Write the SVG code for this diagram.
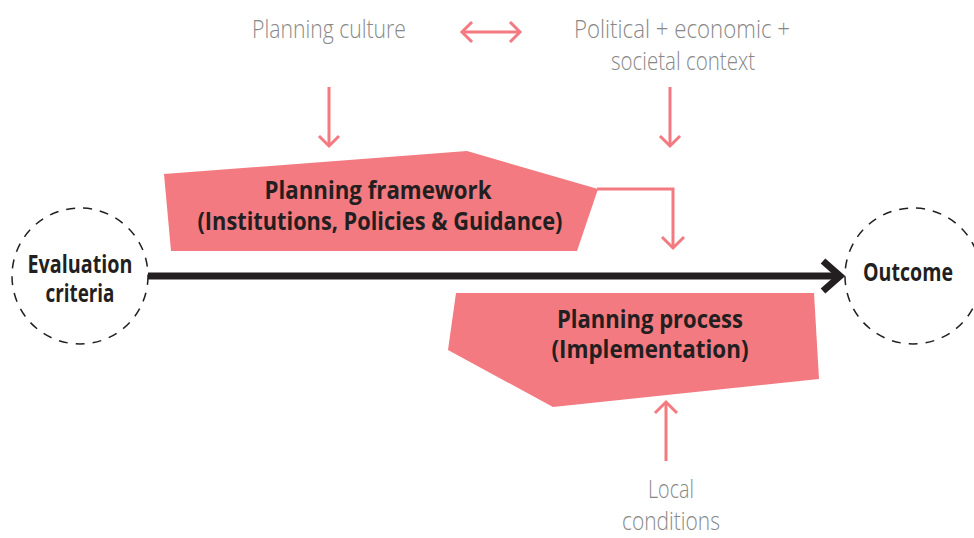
<svg xmlns="http://www.w3.org/2000/svg" width="974" height="538" viewBox="0 0 974 538">
<defs>
<style>
.bg{fill:#ffffff}
.shape{fill:#f27a80}
.light{font-family:"Open Sans","Liberation Sans",sans-serif;font-weight:300;font-size:26px;fill:#888888;text-anchor:middle}
.bold{font-family:"Open Sans","Liberation Sans",sans-serif;font-weight:700;font-size:25px;fill:#231f20;text-anchor:middle}
.circ{fill:none;stroke:#231f20;stroke-width:1.5;stroke-dasharray:9 8}
.pink{fill:none;stroke:#f27a80;stroke-width:3}
.main{fill:none;stroke:#231f20;stroke-width:7}
</style>
</defs>
<rect class="bg" x="0" y="0" width="974" height="538"/>
<g id="connectors">
<line class="main" x1="148" y1="276" x2="838" y2="276"/>
<polyline class="main" points="823,261 840,276 823,291" stroke-linejoin="miter"/>
<line class="pink" x1="462" y1="32" x2="520" y2="32"/>
<polyline class="pink" points="472,22 462,32 472,42"/>
<polyline class="pink" points="510,22 520,32 510,42"/>
<line class="pink" x1="329" y1="87" x2="329" y2="146"/>
<polyline class="pink" points="319,136 329,146 339,136"/>
<line class="pink" x1="670" y1="87" x2="670" y2="146"/>
<polyline class="pink" points="660,136 670,146 680,136"/>
<polyline class="pink" points="597,189 673,189 673,248"/>
<polyline class="pink" points="662,237 673,248 684,237"/>
<line class="pink" x1="666" y1="461" x2="666" y2="402"/>
<polyline class="pink" points="655,413 666,402 677,413"/>
</g>
<g id="evaluation">
<circle class="circ" cx="80" cy="276" r="68"/>
<text class="bold" x="80" y="273" font-size="22" textLength="105" lengthAdjust="spacingAndGlyphs">Evaluation</text>
<text class="bold" x="80" y="302" font-size="22" textLength="69" lengthAdjust="spacingAndGlyphs">criteria</text>
</g>
<g id="outcome">
<circle class="circ" cx="913" cy="276" r="68"/>
<text class="bold" x="908" y="281" font-size="22" textLength="90" lengthAdjust="spacingAndGlyphs">Outcome</text>
</g>
<g id="framework">
<polygon class="shape" points="164,174 467,151 598,189 577,251 171,251"/>
<text class="bold" x="378" y="199" textLength="227" lengthAdjust="spacingAndGlyphs">Planning framework</text>
<text class="bold" x="380" y="230" textLength="365" lengthAdjust="spacingAndGlyphs">(Institutions, Policies &amp; Guidance)</text>
</g>
<g id="process">
<polygon class="shape" points="456,293 814,293 819,379 553,407 448,350"/>
<text class="bold" x="650" y="328" textLength="186" lengthAdjust="spacingAndGlyphs">Planning process</text>
<text class="bold" x="650" y="358" textLength="197" lengthAdjust="spacingAndGlyphs">(Implementation)</text>
</g>
<g id="culture">
<text class="light" x="329" y="38" textLength="154" lengthAdjust="spacingAndGlyphs">Planning culture</text>
</g>
<g id="context">
<text class="light" x="682" y="38" textLength="216" lengthAdjust="spacingAndGlyphs">Political + economic +</text>
<text class="light" x="683" y="70" textLength="144" lengthAdjust="spacingAndGlyphs">societal context</text>
</g>
<g id="local">
<text class="light" x="671" y="498" textLength="46" lengthAdjust="spacingAndGlyphs">Local</text>
<text class="light" x="671" y="530" textLength="98" lengthAdjust="spacingAndGlyphs">conditions</text>
</g>
</svg>
